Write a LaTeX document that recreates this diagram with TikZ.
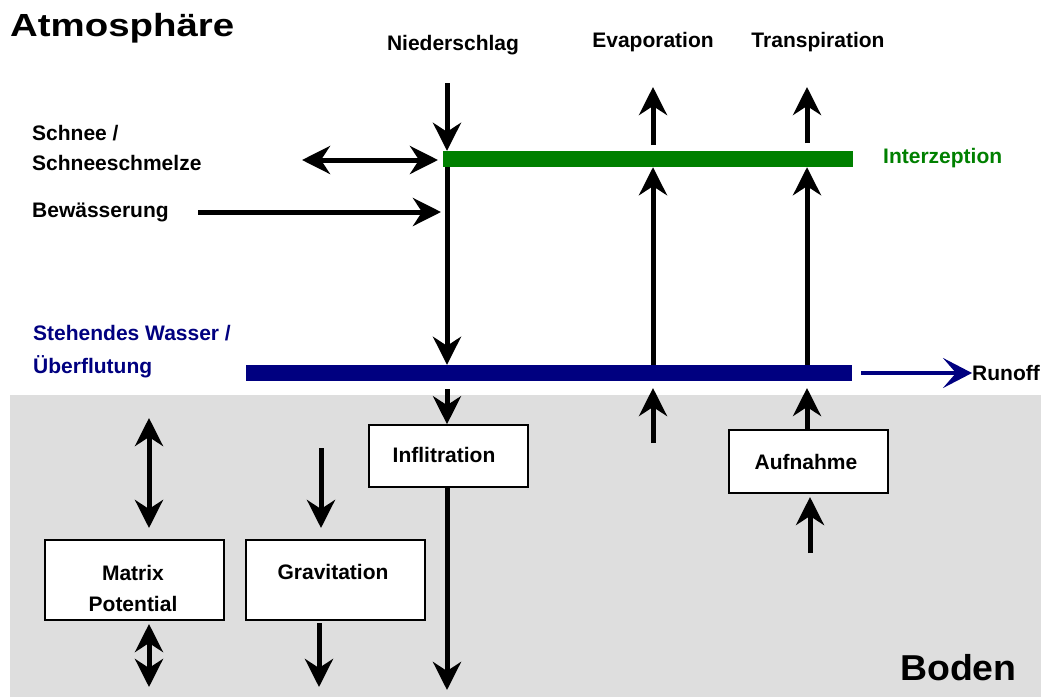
\documentclass[tikz,border=0pt]{standalone}
\usepackage{fontspec}
\usepackage{graphicx}
\setmainfont{Liberation Sans}
\usetikzlibrary{arrows.meta}
\definecolor{soil}{RGB}{222,222,222}
\definecolor{igreen}{RGB}{0,128,0}
\definecolor{inavy}{RGB}{0,0,128}
\newcommand{\lblf}{\fontsize{21}{25}\selectfont\bfseries}
\tikzset{
 >={Stealth[length=28pt,width=28pt,inset=9pt]},
 lbl/.style={font=\lblf, inner sep=0pt, anchor=west},
 flow/.style={line width=5pt, ->},
 flowtwo/.style={line width=5pt, <->},
 procbox/.style={draw=black, line width=1.6pt, fill=white, inner sep=0pt},
 bar/.style={inner sep=0pt, minimum height=16pt},
}
\begin{document}
\begin{tikzpicture}[x=1pt,y=-1pt]
\useasboundingbox (0,0) rectangle (1041,697);
\fill[white] (0,0) rectangle (1041,697);
\fill[soil] (10,395) rectangle (1041,697);

% titles
\node[anchor=west, inner sep=0pt, font=\fontsize{32}{36}\selectfont\bfseries] (atm) at (10,28) {\scalebox{1.2}[1]{Atmosphäre}};
\node[anchor=west, inner sep=0pt, font=\fontsize{36}{40}\selectfont\bfseries] (boden) at (900,668) {\scalebox{1.04}[1]{Boden}};

% labels
\node[lbl, anchor=center] (nied) at (453,45) {Niederschlag};
\node[lbl, anchor=center] (evap) at (653,42) {Evaporation};
\node[lbl, anchor=center] (trans) at (818,42) {Transpiration};
\node[lbl] (schnee) at (32,133) {Schnee /};
\node[lbl] (schm) at (32,163) {Schneeschmelze};
\node[lbl] (bew) at (32,212) {Bewässerung};
\node[lbl, text=igreen] (interz) at (883,158) {Interzeption};
\node[lbl, text=inavy] (steh) at (33,333) {Stehendes Wasser /};
\node[lbl, text=inavy] (ueber) at (33,367) {Überflutung};
\node[lbl] (runoff) at (972,373) {Runoff};

% bars
\node[bar, fill=igreen, minimum width=410pt] (gbar) at (648,159) {};
\node[bar, fill=inavy, minimum width=606pt] (bbar) at (549,373) {};

% boxes
\node[procbox, minimum width=159pt, minimum height=62pt] (infil) at (448.5,456) {};
\node[lbl, anchor=center] (infilt) at (444,455) {Inflitration};
\node[procbox, minimum width=159pt, minimum height=63pt] (aufn) at (808.5,461.5) {};
\node[lbl, anchor=center] (aufnt) at (806,462) {Aufnahme};
\node[procbox, minimum width=179pt, minimum height=80pt] (matrix) at (134.5,580) {};
\node[lbl, anchor=center, align=center] (matrixt) at (133,588) {Matrix\\[6pt]Potential};
\node[procbox, minimum width=179pt, minimum height=80pt] (grav) at (335.5,580) {};
\node[lbl, anchor=center] (gravt) at (333,572) {Gravitation};

% free ends
\coordinate (n0) at (447,83);
\coordinate (s0) at (302,160);
\coordinate (s1) at (438,160);
\coordinate (b0) at (198,212);
\coordinate (b1) at (441,212);
\coordinate (e0) at (653,145);
\coordinate (e1) at (653,87);
\coordinate (t0) at (807,143);
\coordinate (t1) at (807,87);
\coordinate (r0) at (861,373);
\coordinate (i0) at (447,389);
\coordinate (i1) at (447,690);
\coordinate (u0) at (653,443);
\coordinate (u1) at (653,388);
\coordinate (a1) at (807,388);
\coordinate (a2) at (810,553);
\coordinate (a3) at (810,497);
\coordinate (m0) at (149,418);
\coordinate (m1) at (149,528);
\coordinate (m2) at (149,624);
\coordinate (m3) at (149,687);
\coordinate (g0) at (321,448);
\coordinate (g1) at (321,528);
\coordinate (g2) at (319,623);
\coordinate (g3) at (319,687);

% atmosphere flows
\draw[flow] (n0) -- (n0 |- gbar.north);
\draw[flowtwo] (s0) -- (s1);
\draw[flow] (b0) -- (b1);
\draw[flow] (gbar.south -| n0) -- (bbar.north -| n0);
\draw[flow] (e0) -- (e1);
\draw[flow] (bbar.north -| e1) -- (gbar.south -| e1);
\draw[flow] (t0) -- (t1);
\draw[flow] (bbar.north -| t1) -- (gbar.south -| t1);
\draw[inavy, line width=3.5pt, -{Stealth[length=29pt,width=30pt,inset=13pt]}] (r0) -- (runoff.west);

% soil flows
\draw[flow] (i0) -- (infil.north -| i0);
\draw[flow] (infil.south -| i0) -- (i1);
\draw[flow] (u0) -- (u1);
\draw[flow] (aufn.north -| t1) -- (a1);
\draw[flow] (a2) -- (a3);
\draw[flowtwo] (m0) -- (m1);
\draw[flowtwo] (m2) -- (m3);
\draw[flow] (g0) -- (g1);
\draw[flow] (g2) -- (g3);
\end{tikzpicture}
\end{document}
